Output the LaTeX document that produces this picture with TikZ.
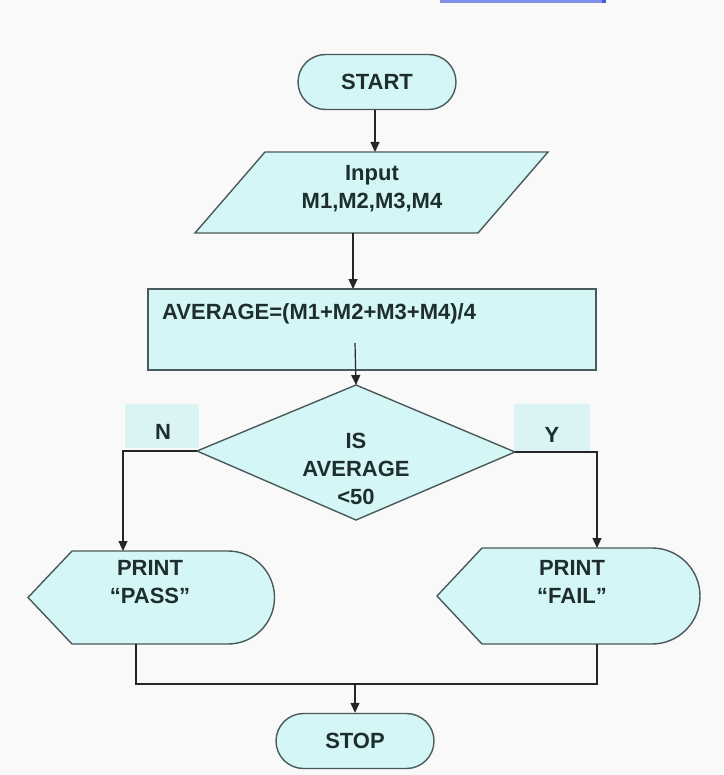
\documentclass[tikz,border=0pt]{standalone}
\usepackage{fontspec}
\setmainfont{Liberation Sans}
\usetikzlibrary{arrows.meta,shapes.misc}
\definecolor{bgc}{HTML}{F9F9F9}
\definecolor{fillc}{HTML}{D5F6F6}
\definecolor{lblc}{HTML}{DAF4F4}
\definecolor{edgec}{HTML}{4A5A5A}
\definecolor{txtc}{HTML}{1E2E2E}
\definecolor{barc}{HTML}{8090E8}
\definecolor{bardark}{HTML}{4A5AD8}
\tikzset{
  shp/.style={draw=edgec, line width=1.4pt, fill=fillc},
  txt/.style={text=txtc, font=\bfseries\fontsize{22}{28}\selectfont, align=center, inner sep=0pt},
  term/.style={shp, rounded rectangle, minimum width=158pt, minimum height=55pt, inner sep=0pt, text=txtc, font=\bfseries\fontsize{22}{28}\selectfont},
  conn/.style={draw=black!85, line width=1.2pt},
  arr/.style={conn, -{Triangle[length=10pt,width=9pt]}},
  lbl/.style={fill=lblc, inner sep=0pt}
}
\begin{document}
\begin{tikzpicture}[x=1pt,y=-1pt]
\fill[bgc] (0,0) rectangle (723,775);
\useasboundingbox (0,0) rectangle (723,775);
% top bar
\fill[barc] (440,0) rectangle (602,3.5);
\fill[bardark] (602,0) rectangle (606,3.5);

% START
\node[term] (start) at (377,82) {START};

% input parallelogram
\coordinate (inTL) at (265,152);
\coordinate (inTR) at (548,152);
\coordinate (inBR) at (478,233);
\coordinate (inBL) at (195,233);
\draw[shp] (inTL) -- (inTR) -- (inBR) -- (inBL) -- cycle;
\node[txt] (input) at (372,189) {Input\\M1,M2,M3,M4};
\coordinate (inTop) at (375,152);
\coordinate (inBot) at (353,233);

% process
\draw[shp] (148,289) rectangle (596,370);
\node[txt, anchor=west] (avg) at (162,314) {AVERAGE=(M1+M2+M3+M4)/4};
\coordinate (prTop) at (353,289);
\coordinate (prIn) at (355,343);

% decision
\coordinate (dT) at (356,385);
\coordinate (dL) at (197,451);
\coordinate (dR) at (515,452);
\coordinate (dB) at (356,520);
\draw[shp] (dT) -- (dR) -- (dB) -- (dL) -- cycle;
\node[txt] (dec) at (356,469) {IS\\AVERAGE\\{<}50};

% labels
\fill[lbl] (125,404) rectangle (199,448);
\node[txt] (nlab) at (163,432) {N};
\fill[lbl] (514,404) rectangle (590,451);
\node[txt] (ylab) at (552,435) {Y};

% PASS display
\coordinate (pTop) at (123,551);
\coordinate (pBot) at (136,644);
\draw[shp] (72,551) -- (228,551) arc(-90:90:46.5) -- (72,644) -- (28,597.5) -- cycle;
\node[txt] (pass) at (150,582) {PRINT\\“PASS”};

% FAIL display
\coordinate (fTop) at (597,548);
\coordinate (fBot) at (597,644);
\draw[shp] (482,548) -- (652,548) arc(-90:90:48) -- (482,644) -- (437,596) -- cycle;
\node[txt] (fail) at (572,582) {PRINT\\“FAIL”};

% STOP
\node[term] (stop) at (355,741) {STOP};

% connectors
\draw[arr] (start.south -| inTop) -- (inTop);
\draw[arr] (inBot) -- (prTop);
\draw[arr] (prIn) -- (dT);
\coordinate (nCorner) at (123,451);
\coordinate (yCorner) at (597,452);
\draw[arr] (dL) -- (nCorner) -- (pTop);
\draw[arr] (dR) -- (yCorner) -- (fTop);
\coordinate (jL) at (136,684);
\coordinate (jR) at (597,684);
\coordinate (jM) at (355,684);
\draw[conn] (pBot) -- (jL) -- (jR) -- (fBot);
\draw[arr] (jM) -- (stop.north);
\end{tikzpicture}
\end{document}
